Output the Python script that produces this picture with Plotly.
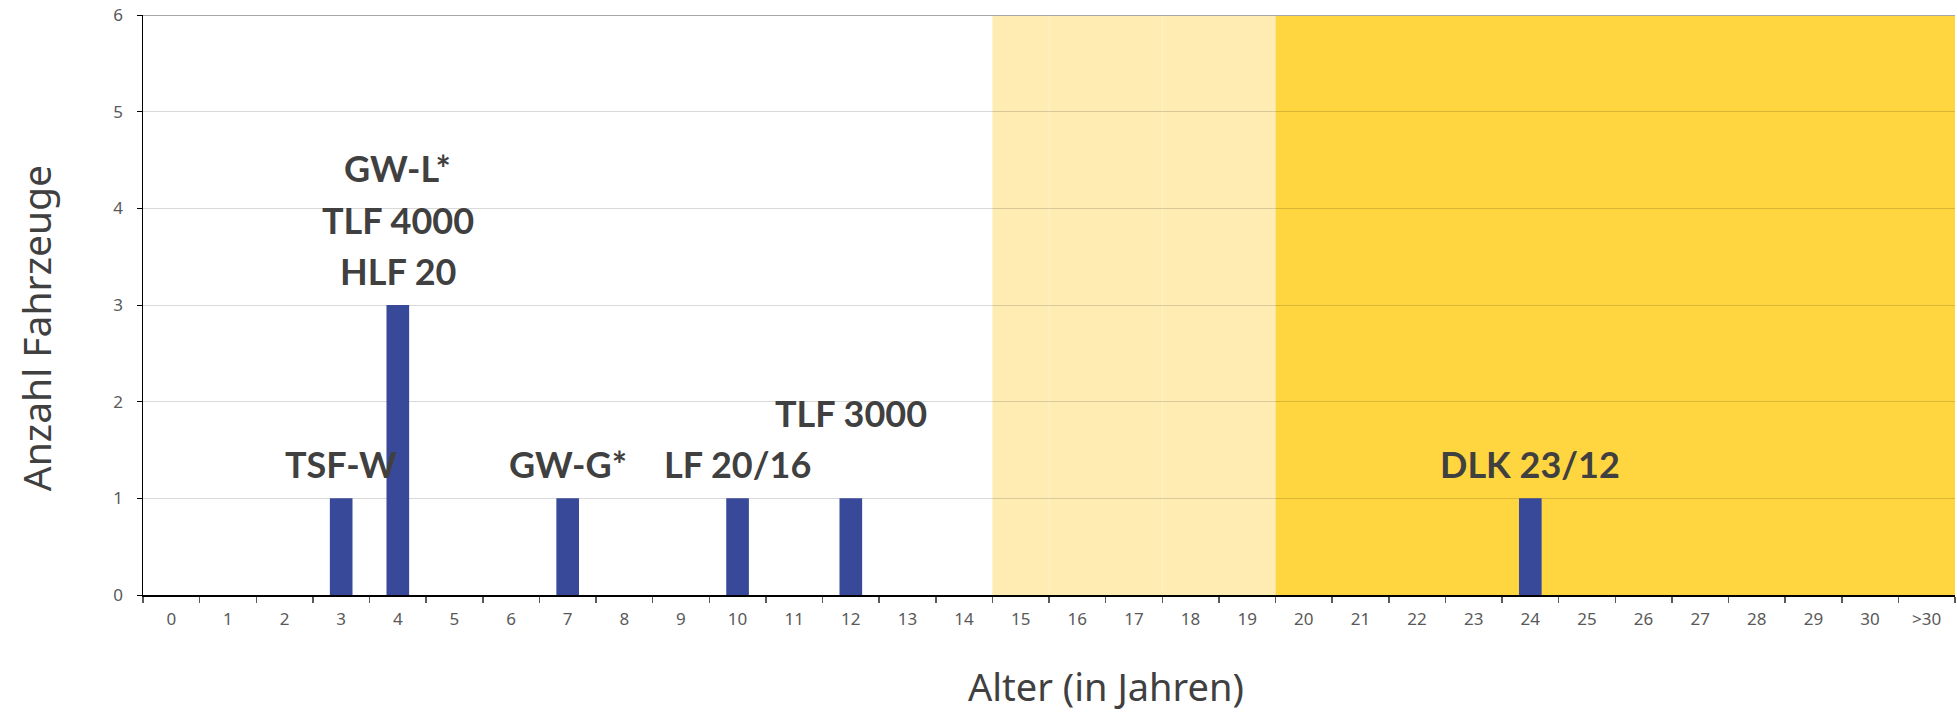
import plotly.graph_objects as go

# ---- data ----
categories = [str(i) for i in range(31)] + [">30"]
bar_cats = ["3", "4", "7", "10", "12", "24"]
bar_vals = [1, 3, 1, 1, 1, 1]
bar_labels = ["TSF-W", "GW-L*<br>TLF 4000<br>HLF 20", "GW-G*", "LF 20/16", "TLF 3000", "DLK 23/12"]
label_extra_lines = {"12": 1}  # label raised by one line
light_band = ("15", "20")  # from category 15 up to (excluding) 20
dark_band = ("20", ">30")  # from 20 to the end
y_ticks = [0, 1, 2, 3, 4, 5, 6]

counts = {c: 0 for c in categories}
for c, v in zip(bar_cats, bar_vals):
    counts[c] = v
y_all = [counts[c] for c in categories]

BAR = "#374998"
LIGHT = "#FFECB3"
DARK = "#FFD640"
TXT = "#404040"

fig = go.Figure()
fig.add_trace(go.Bar(
    x=categories, y=y_all, marker=dict(color=BAR, line=dict(width=0)),
    width=0.4, hoverinfo="skip", showlegend=False,
))

idx = {c: i for i, c in enumerate(categories)}
shapes = [
    dict(type="rect", xref="x", yref="paper", x0=idx[light_band[0]] - 0.5, x1=idx[light_band[1]] - 0.5,
         y0=0, y1=1, fillcolor=LIGHT, line=dict(width=0), layer="below"),
    dict(type="rect", xref="x", yref="paper", x0=idx[dark_band[0]] - 0.5, x1=idx[dark_band[1]] + 0.5,
         y0=0, y1=1, fillcolor=DARK, line=dict(width=0), layer="below"),
]
for c in ["16", "18"]:
    shapes.append(dict(type="line", xref="x", yref="paper", x0=idx[c] - 0.5, x1=idx[c] - 0.5,
                       y0=0, y1=1, line=dict(color="#FFF2C6", width=1), layer="below"))
# top border line at max tick
shapes.append(dict(type="line", xref="paper", yref="y", x0=0, x1=1, y0=y_ticks[-1], y1=y_ticks[-1],
                   line=dict(color="#A6A6A6", width=2), layer="above"))

annotations = []
LINE = 51.5
for c, v, lab in zip(bar_cats, bar_vals, bar_labels):
    lines = lab.split("<br>")
    extra = label_extra_lines.get(c, 0)
    n = len(lines)
    for k, ln in enumerate(lines):
        level = (n - 1 - k) + extra
        annotations.append(dict(
            x=c, y=v, xref="x", yref="y", text="<b>%s</b>" % ln, showarrow=False,
            yanchor="middle", xanchor="center", yshift=34 + level * LINE,
            font=dict(family="Lato", size=36, color=TXT),
        ))

annotations.append(dict(
    x=0.5315, y=-0.157, xref="paper", yref="paper", text="Alter (in Jahren)", showarrow=False,
    xanchor="center", yanchor="middle", font=dict(family="Noto Sans", size=38, color=TXT),
))
annotations.append(dict(
    x=-0.0596, y=0.46, xref="paper", yref="paper", text="Anzahl Fahrzeuge", showarrow=False,
    xanchor="center", yanchor="middle", textangle=-90,
    font=dict(family="Noto Sans", size=39, color=TXT),
))

fig.update_layout(
    width=1957, height=713,
    margin=dict(l=143, r=2, t=15, b=118),
    paper_bgcolor="white", plot_bgcolor="white",
    shapes=shapes, annotations=annotations,
    bargap=0.6,
)
fig.update_xaxes(
    type="category", categoryorder="array", categoryarray=categories,
    range=[-0.5, len(categories) - 0.5],
    showline=True, linecolor="black", linewidth=1.5,
    ticks="outside", tickson="boundaries", ticklen=6, tickcolor="#595959", tickwidth=1.5,
    tickfont=dict(family="Noto Sans", size=17, color="#595959"),
    ticklabelstandoff=8, showgrid=False, zeroline=False, fixedrange=True,
)
fig.update_yaxes(
    range=[0, 6], tickvals=y_ticks,
    showline=True, linecolor="black", linewidth=1.5,
    ticks="outside", ticklen=5, tickcolor="black", tickwidth=1,
    tickfont=dict(family="Noto Sans", size=17, color="#595959"),
    ticklabelstandoff=10,
    showgrid=True, gridcolor="rgba(0,0,0,0.15)", gridwidth=1, zeroline=False, fixedrange=True,
)

# remove the page's default 8px body margin so the figure fills the window exactly
fig.write_html(
    "out.html",
    config={"displayModeBar": False, "staticPlot": True},
    post_script="document.body.style.margin='0';document.body.style.overflow='hidden';",
)
